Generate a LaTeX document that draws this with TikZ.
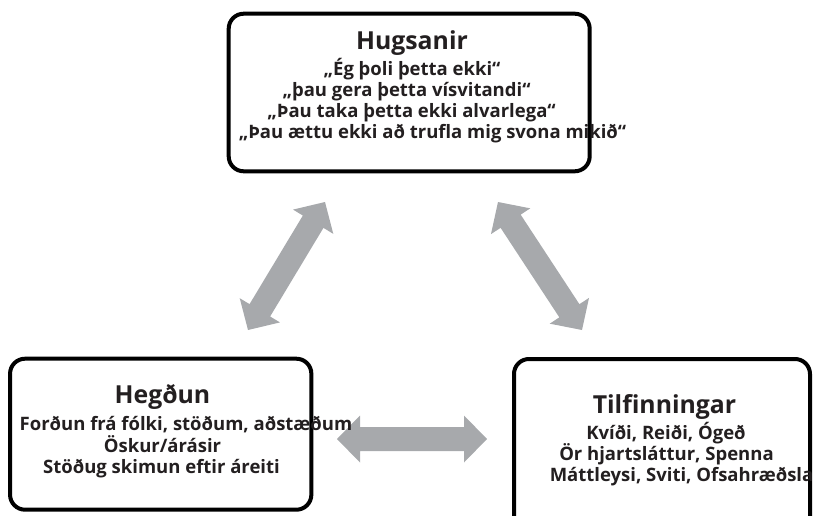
\documentclass[tikz,border=0pt]{standalone}
\usepackage{fontspec}
\setmainfont{Open Sans}
\usetikzlibrary{calc}
\definecolor{arrowgray}{RGB}{167,169,172}
\definecolor{textdark}{RGB}{35,31,32}
\newcommand\mytitlefont{\fontsize{24.8}{30}\selectfont\bfseries}
\newcommand\mysubfont{\fontsize{18.5}{20}\selectfont\bfseries}
\newcommand\dblarrow[2]{%
  \path ($(#1)!23pt!(#2)$) coordinate (h1) ($(#2)!23pt!(#1)$) coordinate (h2);
  \fill[arrowfill] (#1) -- ($(h1)!23.5pt!90:(#2)$) -- ($(h1)!12pt!90:(#2)$)
    -- ($(h2)!12pt!90:(#2)$) -- ($(h2)!23.5pt!90:(#2)$) -- (#2)
    -- ($(h2)!23.5pt!-90:(#2)$) -- ($(h2)!12pt!-90:(#2)$)
    -- ($(h1)!12pt!-90:(#2)$) -- ($(h1)!23.5pt!-90:(#2)$) -- cycle;
}
\tikzset{
  arrowfill/.style={fill=arrowgray},
  box/.style={draw=black, line width=4pt, rounded corners=15pt, inner sep=0pt, fill=white},
  ttl/.style={anchor=base, inner sep=0pt, text=textdark, font=\mytitlefont},
  subl/.style={anchor=base, inner sep=0pt, text=textdark, font=\mysubfont},
}
\begin{document}
\begin{tikzpicture}[x=1pt,y=-1pt]
\useasboundingbox (0,0) rectangle (815,515);
% boxes
\node[box, minimum width=361pt, minimum height=157.6pt] (hug) at (409.2,92.5) {};
\node[box, minimum width=301.3pt, minimum height=151pt] (heg) at (160.7,434.2) {};
\node[box, minimum width=296pt, minimum height=181pt] (til) at (662,449.5) {};
% arrow tips
\coordinate (a1) at (325,202);
\coordinate (a2) at (248,330);
\coordinate (b1) at (498,202);
\coordinate (b2) at (582,330);
\coordinate (c1) at (337,439);
\coordinate (c2) at (487,439);
\dblarrow{a1}{a2}
\dblarrow{b1}{b2}
\dblarrow{c1}{c2}
% texts top
\node[ttl] (t0) at (412,49) {Hugsanir};
\node[subl] (t1) at (412,75) {„Ég þoli þetta ekki“};
\node[subl] (t2) at (406.5,96.5) {„þau gera þetta vísvitandi“};
\node[subl] (t3) at (411.5,117.5) {„Þau taka þetta ekki alvarlega“};
\node[subl] (t4) at (432.5,138.5) {„Þau ættu ekki að trufla mig svona mikið“};
% left
\node[ttl] (l0) at (162.5,403) {Hegðun};
\node[subl] (l1) at (186,430) {Forðun frá fólki, stöðum, aðstæðum};
\node[subl] (l2) at (162.5,452) {Öskur/árásir};
\node[subl] (l3) at (161.5,473) {Stöðug skimun eftir áreiti};
% right
\node[ttl] (r0) at (664.5,413) {Tilfinningar};
\node[subl] (r1) at (666,439) {Kvíði, Reiði, Ógeð};
\node[subl] (r2) at (666.5,460) {Ör hjartsláttur, Spenna};
\node[subl, anchor=base east] (r3) at (813.5,481) {Máttleysi, Sviti, Ofsahræðsla};
\end{tikzpicture}
\end{document}
